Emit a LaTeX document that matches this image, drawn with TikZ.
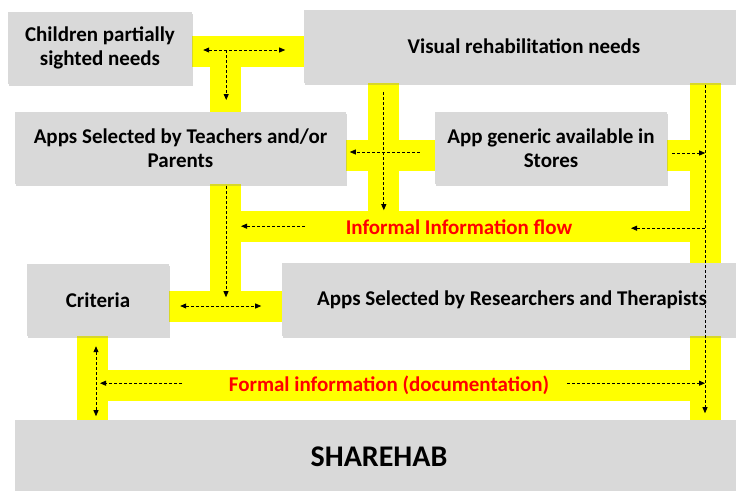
\documentclass[tikz,border=0pt]{standalone}
\usepackage{fontspec}
\setmainfont{Carlito}
\usetikzlibrary{arrows.meta,shadows,backgrounds}
\definecolor{boxgray}{HTML}{D9D9D9}
\definecolor{bandyellow}{HTML}{FFFF00}
\tikzset{
  panel/.style={rectangle, fill=boxgray, inner sep=0pt, align=center,
    font=\fontsize{21}{24}\selectfont\bfseries,
    drop shadow={shadow xshift=0.6pt, shadow yshift=-1.8pt, opacity=0.3}},
  lane/.style={bandyellow, line width=31pt},
  note/.style={text=red, font=\fontsize{21}{24}\selectfont\bfseries},
  flow/.style={line width=0.8pt, dash pattern=on 3pt off 2pt,
    >={Triangle[length=6pt,width=5pt]}}
}
\begin{document}
\begin{tikzpicture}[x=1pt, y=-1pt]
\useasboundingbox (0,0) rectangle (736,490);
% boxes
\node[panel, minimum width=184, minimum height=72] (kids) at (100,48) {Children partially\\sighted needs};
\node[panel, minimum width=440, minimum height=73] (visual) at (524,46.5) {Visual rehabilitation needs};
\node[panel, minimum width=331, minimum height=72] (teach) at (180.5,148) {Apps Selected by Teachers and/or\\Parents};
\node[panel, minimum width=232, minimum height=72] (stores) at (551,148) {App generic available in\\Stores};
\node[panel, minimum width=142, minimum height=72] (crit) at (98,300) {Criteria};
\node[panel, minimum width=460, minimum height=73] (research) at (512,299.5) {Apps Selected by Researchers and Therapists};
\node[panel, minimum width=728, minimum height=74, font=\fontsize{30}{34}\selectfont\bfseries] (sharehab) at (379,457) {SHAREHAB};
% yellow lanes
\begin{scope}[on background layer]
\draw[lane] (192,51) -- (304,51);
\draw[lane] (225,51) -- (225,112);
\draw[lane] (225,184) -- (225,306);
\draw[lane] (169,306) -- (282,306);
\draw[lane] (225,226.5) -- (705,226.5);
\draw[lane] (383,83) -- (383,226.5);
\draw[lane] (346,155) -- (435,155);
\draw[lane] (667,155) -- (705,155);
\draw[lane] (705,83) -- (705,420);
\draw[lane] (92.5,385.5) -- (705,385.5);
\draw[lane] (92.5,336) -- (92.5,420);
\end{scope}
\node[note] (informal) at (459,227) {Informal Information flow};
\node[note] (formal) at (389,385) {Formal information (documentation)};
% informal flow
\draw[flow,<->] (kids.east) ++(11,2) -- ++(82,0);
\draw[flow,->] (kids.east) ++(34,2) -- ++(0,50);
\draw[flow,->] (teach.south) ++(45.5,2) -- ++(0,111);
\draw[flow,->] (teach.south) ++(124.5,42) -- ++(-64,0);
\draw[flow,<->] (crit.east) ++(11,6) -- ++(81,0);
\draw[flow,->] (visual.south west) ++(80,9) -- ++(0,118);
\draw[flow,->] (stores.west) ++(-15,4) -- ++(-70,0);
\draw[flow,->] (stores.east) ++(5,5) -- ++(33,0);
\draw[flow,->] (visual.south) ++(181,2) -- ++(0,328);
\draw[flow,->] (visual.south) ++(181,145) -- ++(-74,0);
% formal flow
\draw[flow,->] (research.south) ++(55,47) -- ++(138,0);
\draw[flow,<->] (crit.south) ++(-2,10) -- ++(0,70);
\draw[flow,->] (crit.south) ++(84,47) -- ++(-82,0);
\end{tikzpicture}
\end{document}
